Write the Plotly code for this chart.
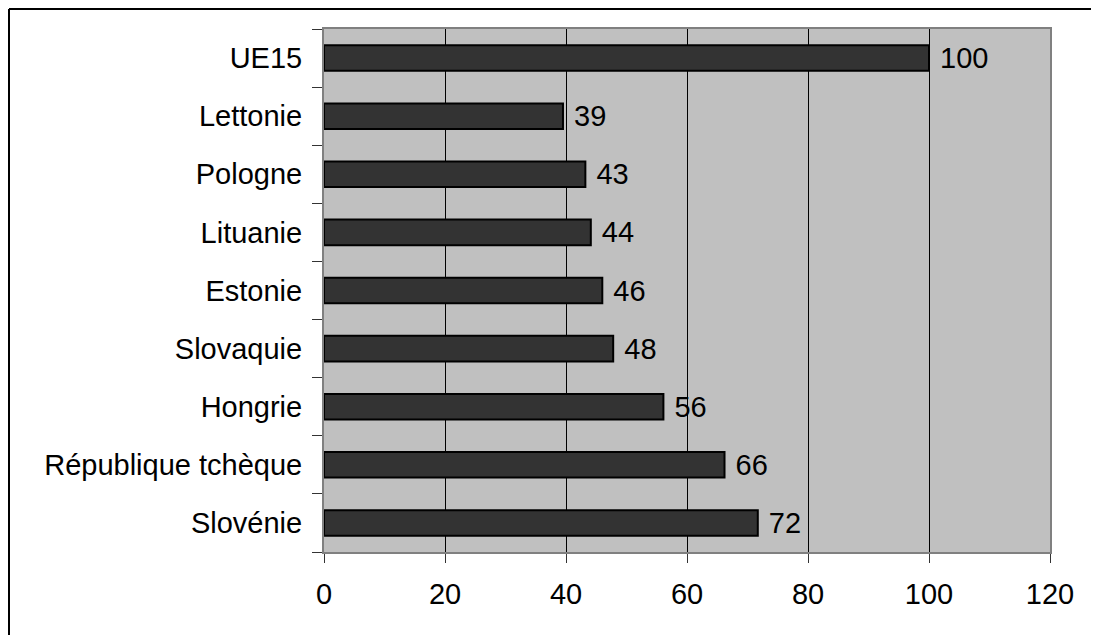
import plotly.graph_objects as go

categories = ["UE15", "Lettonie", "Pologne", "Lituanie", "Estonie",
              "Slovaquie", "Hongrie", "République tchèque", "Slovénie"]
values = [100, 39.5, 43.2, 44.1, 46.0, 47.8, 56.1, 66.2, 71.7]
labels = ["100", "39", "43", "44", "46", "48", "56", "66", "72"]
x_ticks = [0, 20, 40, 60, 80, 100, 120]

FONT = "Liberation Sans, Arial, sans-serif"

fig = go.Figure()
fig.add_trace(go.Bar(
    y=categories,
    x=values,
    orientation="h",
    marker=dict(color="#333333", line=dict(color="#000000", width=2)),
    text=[" " + t for t in labels],
    textposition="outside",
    constraintext="none",
    textfont=dict(family=FONT, size=29, color="#000000"),
    cliponaxis=False,
    hoverinfo="skip",
))

W, H = 1091, 627
L, R, T, B = 316, 49, 21, 83
pw, ph = W - L - R, H - T - B

def px_x(p):
    return (p - L) / pw

def px_y(p):
    return (H - B - p) / ph

# outer frame: only the top and left edges are visible in the reference
fig.add_shape(type="line", xref="paper", yref="paper",
              x0=px_x(1), x1=px_x(W), y0=px_y(1), y1=px_y(1),
              line=dict(color="#000000", width=2), layer="above")
fig.add_shape(type="line", xref="paper", yref="paper",
              x0=px_x(1), x1=px_x(1), y0=px_y(1), y1=px_y(H),
              line=dict(color="#000000", width=2), layer="above")

fig.update_layout(
    width=W, height=H,
    margin=dict(l=L, r=R, t=T, b=B, pad=0),
    paper_bgcolor="#FFFFFF",
    plot_bgcolor="#C0C0C0",
    showlegend=False,
    bargap=0.56,
    font=dict(family=FONT, size=29, color="#000000"),
)
fig.update_xaxes(
    range=[0, 120],
    tickvals=x_ticks,
    ticktext=[str(v) for v in x_ticks],
    showgrid=True, gridcolor="#000000", gridwidth=1,
    zeroline=False,
    showline=True, linecolor="#808080", linewidth=2, mirror=True,
    ticks="outside", ticklen=9, tickcolor="#333333", tickwidth=1,
    tickfont=dict(family=FONT, size=29, color="#000000"),
    ticklabelstandoff=6,
    fixedrange=True,
)
fig.update_yaxes(
    categoryorder="array",
    categoryarray=categories[::-1],
    showgrid=False,
    zeroline=False,
    showline=True, linecolor="#808080", linewidth=2, mirror=True,
    ticks="outside", ticklen=10, tickcolor="#333333", tickwidth=1,
    tickson="boundaries",
    tickfont=dict(family=FONT, size=29, color="#000000"),
    ticklabelstandoff=14,
    fixedrange=True,
)

fig.write_html("out.html", config={"displayModeBar": False})
